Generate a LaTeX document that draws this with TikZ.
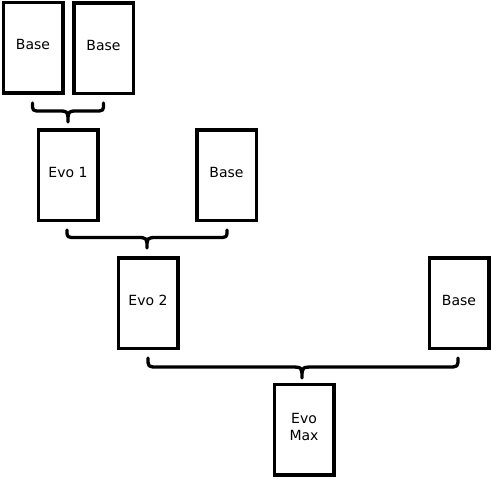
\documentclass[tikz,border=0pt]{standalone}
\usepackage{fontspec}
\setmainfont{DejaVu Sans}
\begin{document}
\begin{tikzpicture}[x=1pt,y=-1pt,
  card/.style={draw=black,line width=3.5pt,fill=white,minimum width=59.5pt,minimum height=90.5pt,
    inner sep=0pt,align=center,text depth=6pt,font=\fontsize{14}{17}\selectfont},
  bracepath/.style={draw=black,line width=3.3pt,line cap=round,line join=round}]
\useasboundingbox[fill=white] (0,0) rectangle (491,480);
\node[card] (b1) at (33,47.5) {Base};
\node[card] (b2) at (103.5,48) {Base};
\node[card] (e1) at (68,175) {Evo 1};
\node[card] (b3) at (226.5,175) {Base};
\node[card] (e2) at (148,303) {Evo 2};
\node[card] (b4) at (459,303) {Base};
\node[card] (em) at (304,429.5) {Evo\\Max};
% brace 1
\coordinate (l1) at (32.5,103); \coordinate (r1) at (103.5,103); \coordinate (t1) at (68,122);
\draw[bracepath] (l1) .. controls (32.5,111) .. (41,111) -- (58,111)
  .. controls (68,111) .. (t1) .. controls (68,111) .. (78,111) -- (95,111)
  .. controls (103.5,111) .. (r1);
% brace 2
\coordinate (l2) at (67,230); \coordinate (r2) at (227,230); \coordinate (t2) at (147,248);
\draw[bracepath] (l2) .. controls (67,237.5) .. (76,237.5) -- (136,237.5)
  .. controls (147,237.5) .. (t2) .. controls (147,237.5) .. (158,237.5) -- (218,237.5)
  .. controls (227,237.5) .. (r2);
% brace 3
\coordinate (l3) at (148,358); \coordinate (r3) at (458,358); \coordinate (t3) at (302,378);
\draw[bracepath] (l3) .. controls (148,367) .. (158,367) -- (290,367)
  .. controls (302,367) .. (t3) .. controls (302,367) .. (314,367) -- (448,367)
  .. controls (458,367) .. (r3);
\end{tikzpicture}
\end{document}
